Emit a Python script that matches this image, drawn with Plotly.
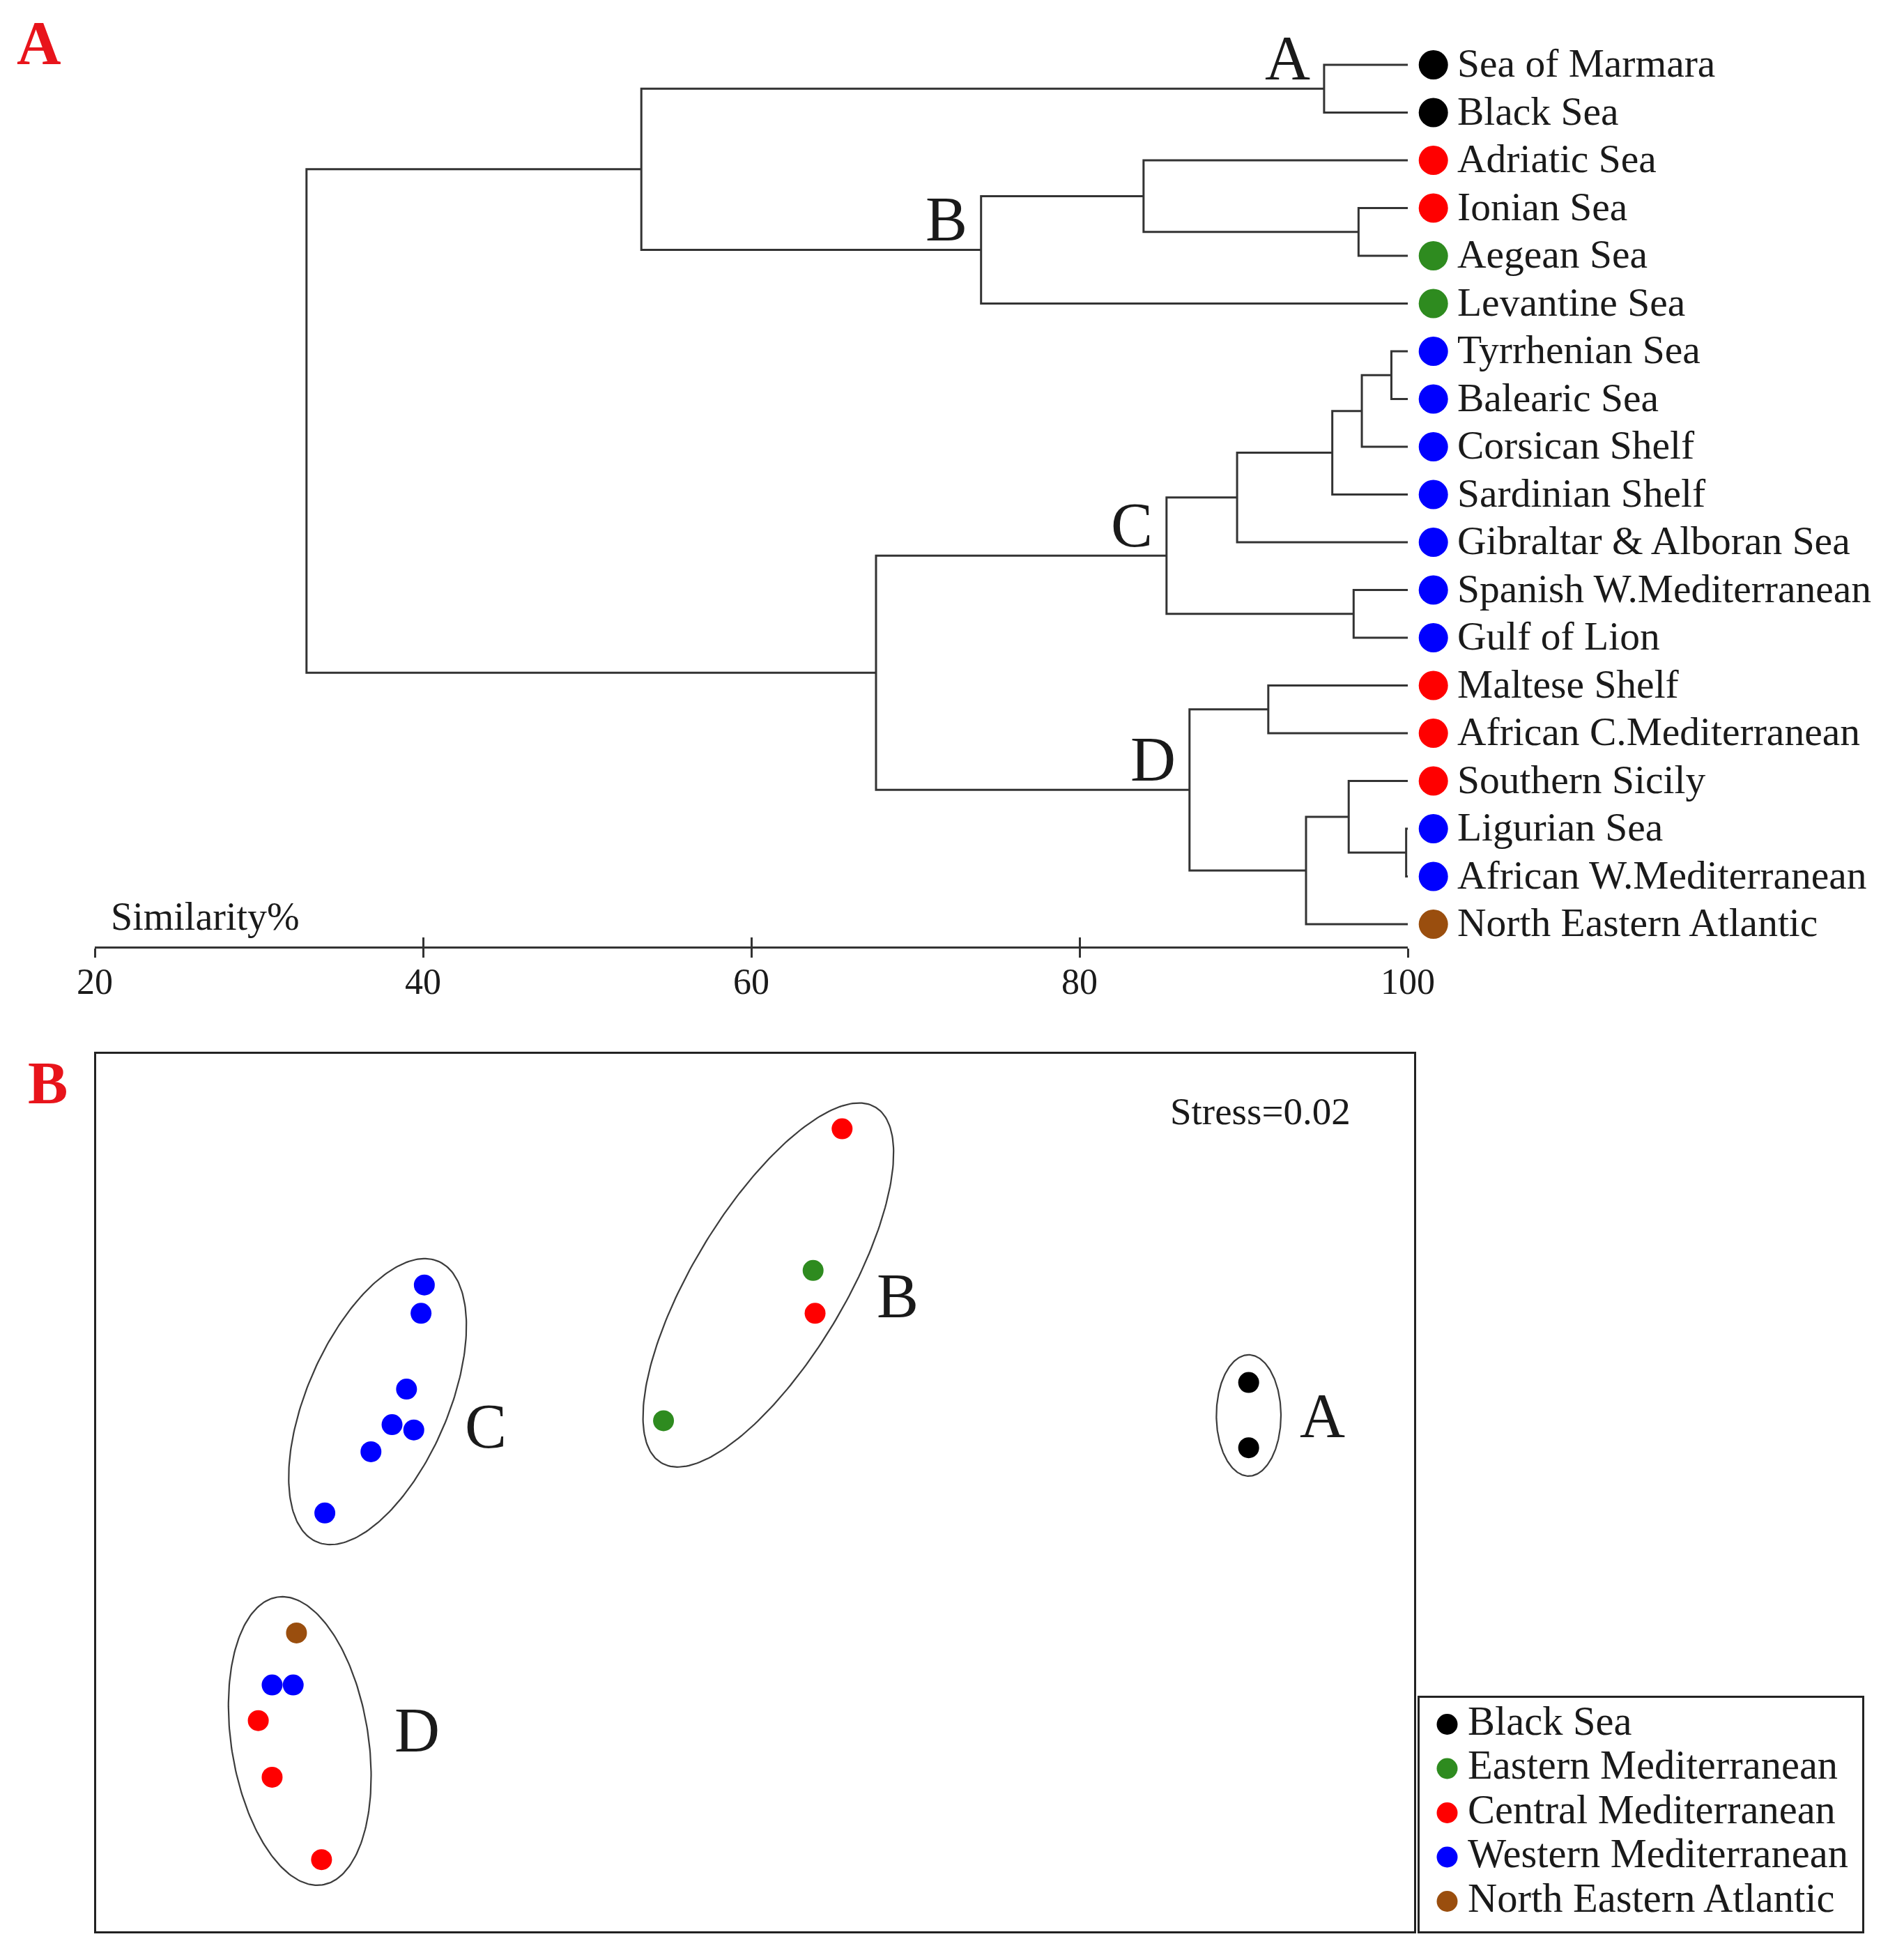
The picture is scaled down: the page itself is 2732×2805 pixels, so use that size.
import numpy as np
import plotly.graph_objects as go

# ---------------- data ----------------
leaf_names = ["Sea of Marmara", "Black Sea", "Adriatic Sea", "Ionian Sea", "Aegean Sea",
              "Levantine Sea", "Tyrrhenian Sea", "Balearic Sea", "Corsican Shelf",
              "Sardinian Shelf", "Gibraltar & Alboran Sea", "Spanish W.Mediterranean",
              "Gulf of Lion", "Maltese Shelf", "African C.Mediterranean", "Southern Sicily",
              "Ligurian Sea", "African W.Mediterranean", "North Eastern Atlantic"]
leaf_regions = ["Black Sea", "Black Sea",
                "Central Mediterranean", "Central Mediterranean",
                "Eastern Mediterranean", "Eastern Mediterranean",
                "Western Mediterranean", "Western Mediterranean", "Western Mediterranean",
                "Western Mediterranean", "Western Mediterranean", "Western Mediterranean",
                "Western Mediterranean",
                "Central Mediterranean", "Central Mediterranean", "Central Mediterranean",
                "Western Mediterranean", "Western Mediterranean",
                "North Eastern Atlantic"]

# dendrogram merges (node ids continue after the 19 leaves) and similarity (%)
merge_a = [0, 3, 2, 21, 19, 6, 24, 25, 26, 11, 27, 13, 16, 15, 32, 30, 29, 23]
merge_b = [1, 4, 20, 5, 22, 7, 8, 9, 10, 12, 28, 14, 17, 31, 18, 33, 34, 35]
merge_sim = [94.9, 97.0, 83.9, 74.0, 53.3, 99.0, 97.2, 95.4, 89.6, 96.7, 85.3,
             91.5, 99.9, 96.4, 93.8, 86.7, 67.6, 32.9]
cluster_labels = ["A", "B", "C", "D"]
cluster_nodes = [19, 22, 29, 34]
sim_ticks = [20, 40, 60, 80, 100]

# nMDS coordinates (same order as leaf_names)
mds_x = [0.749, 0.749, 0.132, 0.091, 0.088, -0.139,
         -0.551, -0.518, -0.529, -0.583, -0.653, -0.502, -0.507,
         -0.733, -0.658, -0.754, -0.733, -0.701, -0.696]
mds_y = [0.068, 0.167, 0.552, 0.272, 0.337, 0.109,
         0.103, 0.095, 0.157, 0.062, -0.031, 0.315, 0.272,
         -0.432, -0.557, -0.346, -0.292, -0.292, -0.213]
stress = 0.02

# cluster ellipses on the nMDS plot
ell_cx = [0.749, 0.020, -0.573, -0.691]
ell_cy = [0.117, 0.315, 0.138, -0.377]
ell_a = [0.092, 0.315, 0.232, 0.221]
ell_b = [0.049, 0.115, 0.107, 0.104]
ell_ang = [90.0, 58.9, 66.5, 98.9]

regions = ["Black Sea", "Eastern Mediterranean", "Central Mediterranean",
           "Western Mediterranean", "North Eastern Atlantic"]
region_colors = ["#000000", "#2e8b1f", "#ff0000", "#0000ff", "#9a4e0e"]

# ---------------- layout constants ----------------
W, H = 2732, 2805
FONT = "Liberation Serif"
TXT = "#1a1a1a"
LINE = "#333333"
cmap = dict(zip(regions, region_colors))

# dendrogram geometry (pixels)
px20, px100 = 136, 2020
leaf0_px, leaf_step = 93, 68.5
axis_px = 1358
dy_top = (0 - leaf0_px) / leaf_step
dy_bot = (axis_px - leaf0_px) / leaf_step

fig = go.Figure()

# dendrogram branches
n_leaf = len(leaf_names)
node_x = [100.0] * n_leaf
node_y = [float(i) for i in range(n_leaf)]
lx, ly = [], []
for a, b, s in zip(merge_a, merge_b, merge_sim):
    lx += [node_x[a], s, s, node_x[b], None]
    ly += [node_y[a], node_y[a], node_y[b], node_y[b], None]
    node_x.append(s)
    node_y.append((node_y[a] + node_y[b]) / 2)
fig.add_trace(go.Scatter(x=lx, y=ly, mode="lines", line=dict(color=LINE, width=3),
                         showlegend=False, hoverinfo="skip", xaxis="x", yaxis="y"))

# leaf markers and labels (on a pixel-unit axis to the right of 100 %)
fig.add_trace(go.Scatter(x=[36.7] * n_leaf, y=list(range(n_leaf)), mode="markers",
                         marker=dict(size=42, color=[cmap[r] for r in leaf_regions]),
                         showlegend=False, hoverinfo="skip", xaxis="x5", yaxis="y"))
fig.add_trace(go.Scatter(x=[71] * n_leaf, y=[i + 0.04 for i in range(n_leaf)], mode="text",
                         text=leaf_names, textposition="middle right",
                         textfont=dict(family=FONT, size=57.5, color=TXT),
                         cliponaxis=False, showlegend=False, hoverinfo="skip",
                         xaxis="x5", yaxis="y"))
# invisible trace to carry the upward tick overlay axis
fig.add_trace(go.Scatter(x=sim_ticks, y=[None] * len(sim_ticks), mode="markers",
                         showlegend=False, hoverinfo="skip", xaxis="x2", yaxis="y"))

# cluster letters on dendrogram
for lab, nd in zip(cluster_labels, cluster_nodes):
    fig.add_annotation(x=node_x[nd], y=node_y[nd], xref="x", yref="y", text=lab,
                       showarrow=False, xanchor="right", yanchor="bottom",
                       xshift=-18, yshift=-8,
                       font=dict(family=FONT, size=90, color=TXT))

# ---------------- nMDS panel ----------------
mx0, mx1, my0, my1 = 138, 2029, 1512, 2771
ppu = (mx1 - mx0) / 2.0
hy = (my1 - my0) / 2.0 / ppu

t = np.linspace(0, 2 * np.pi, 241)
for cx, cy, a, b, ang in zip(ell_cx, ell_cy, ell_a, ell_b, ell_ang):
    th = np.deg2rad(ang)
    ex = cx + a * np.cos(t) * np.cos(th) - b * np.sin(t) * np.sin(th)
    ey = cy + a * np.cos(t) * np.sin(th) + b * np.sin(t) * np.cos(th)
    fig.add_trace(go.Scatter(x=ex, y=ey, mode="lines", line=dict(color="#3c3c3c", width=2.2),
                             showlegend=False, hoverinfo="skip", xaxis="x3", yaxis="y3"))

for reg in regions:
    idx = [i for i, r in enumerate(leaf_regions) if r == reg]
    fig.add_trace(go.Scatter(x=[mds_x[i] for i in idx], y=[mds_y[i] for i in idx],
                             mode="markers", name=reg,
                             marker=dict(size=30, color=cmap[reg]),
                             text=[leaf_names[i] for i in idx],
                             showlegend=False, xaxis="x3", yaxis="y3"))

mds_label_pos = {"A": (0.824, 0.116), "B": (0.182, 0.298),
                 "C": (-0.443, 0.101), "D": (-0.549, -0.361)}
for lab in cluster_labels:
    lxp, lyp = mds_label_pos[lab]
    fig.add_annotation(x=lxp, y=lyp, xref="x3", yref="y3", text=lab, showarrow=False,
                       xanchor="left", yanchor="middle",
                       font=dict(family=FONT, size=90, color=TXT))

fig.add_annotation(x=1940 / W, y=1 - 1594 / H, xref="paper", yref="paper",
                   text=f"Stress={stress:.2f}", showarrow=False,
                   xanchor="right", yanchor="middle",
                   font=dict(family=FONT, size=55, color=TXT))

# ---------------- legend panel ----------------
gx0, gx1, gy0, gy1 = 2037, 2672, 2436, 2771
item0_px, item_step = 2474, 63.5
ly_top = (gy0 - item0_px) / item_step
ly_bot = (gy1 - item0_px) / item_step
leg_mark = (2076.5 - gx0) / (gx1 - gx0)
leg_text = (2106 - gx0) / (gx1 - gx0)
fig.add_trace(go.Scatter(x=[leg_mark] * len(regions), y=list(range(len(regions))),
                         mode="markers", marker=dict(size=30, color=region_colors),
                         showlegend=False, hoverinfo="skip",
                         xaxis="x4", yaxis="y4"))
fig.add_trace(go.Scatter(x=[leg_text] * len(regions), y=list(range(len(regions))),
                         mode="text", text=regions, textposition="middle right",
                         textfont=dict(family=FONT, size=58.5, color=TXT),
                         cliponaxis=False, showlegend=False, hoverinfo="skip",
                         xaxis="x4", yaxis="y4"))

# panel letters and axis title
fig.add_annotation(x=22 / W, y=1 - 61.5 / H, xref="paper", yref="paper", text="<b>A</b>",
                   showarrow=False, xanchor="left", yanchor="middle",
                   font=dict(family=FONT, size=88, color="#e8141b"))
fig.add_annotation(x=38 / W, y=1 - 1553.5 / H, xref="paper", yref="paper", text="<b>B</b>",
                   showarrow=False, xanchor="left", yanchor="middle",
                   font=dict(family=FONT, size=86, color="#e8141b"))
fig.add_annotation(x=157 / W, y=1 - 1314.5 / H, xref="paper", yref="paper",
                   text="Similarity%", showarrow=False, xanchor="left", yanchor="middle",
                   font=dict(family=FONT, size=56, color=TXT))

noax = dict(showgrid=False, zeroline=False, showticklabels=False, ticks="", automargin=False)
frame = dict(showline=True, mirror=True, linecolor="#222222", linewidth=3)

fig.update_layout(
    template="none",
    width=W, height=H, margin=dict(l=0, r=0, t=0, b=0, pad=0), autosize=False,
    paper_bgcolor="white", plot_bgcolor="rgba(0,0,0,0)", showlegend=False,
    font=dict(family=FONT, color=TXT),
    xaxis=dict(domain=[px20 / W, px100 / W], range=[20, 100], anchor="y",
               tickmode="array", tickvals=sim_ticks, ticktext=[str(v) for v in sim_ticks],
               ticks="outside", ticklen=13, tickwidth=3, tickcolor=LINE,
               ticklabelstandoff=-10,
               showline=True, linewidth=3, linecolor=LINE, showgrid=False, zeroline=False,
               automargin=False, tickfont=dict(family=FONT, size=52, color=TXT)),
    xaxis2=dict(overlaying="x", anchor="y", range=[20, 100], tickmode="array",
                tickvals=sim_ticks, ticks="inside", ticklen=13, tickwidth=3, tickcolor=LINE,
                showticklabels=False, showline=False, showgrid=False, zeroline=False,
                automargin=False),
    yaxis=dict(domain=[1 - axis_px / H, 1], range=[dy_bot, dy_top], anchor="x",
               visible=False, automargin=False),
    xaxis5=dict(domain=[px100 / W, 1], range=[0, W - px100], anchor="y",
                visible=False, automargin=False),
    xaxis3=dict(domain=[mx0 / W, mx1 / W], range=[-1, 1], anchor="y3", **noax, **frame),
    yaxis3=dict(domain=[1 - my1 / H, 1 - my0 / H], range=[-hy, hy], anchor="x3",
                **noax, **frame),
    xaxis4=dict(domain=[gx0 / W, gx1 / W], range=[0, 1], anchor="y4", **noax, **frame),
    yaxis4=dict(domain=[1 - gy1 / H, 1 - gy0 / H], range=[ly_bot, ly_top], anchor="x4",
                **noax, **frame),
)

fig.write_html("out.html", config={"displayModeBar": False},
               post_script="document.body.style.margin='0';")
